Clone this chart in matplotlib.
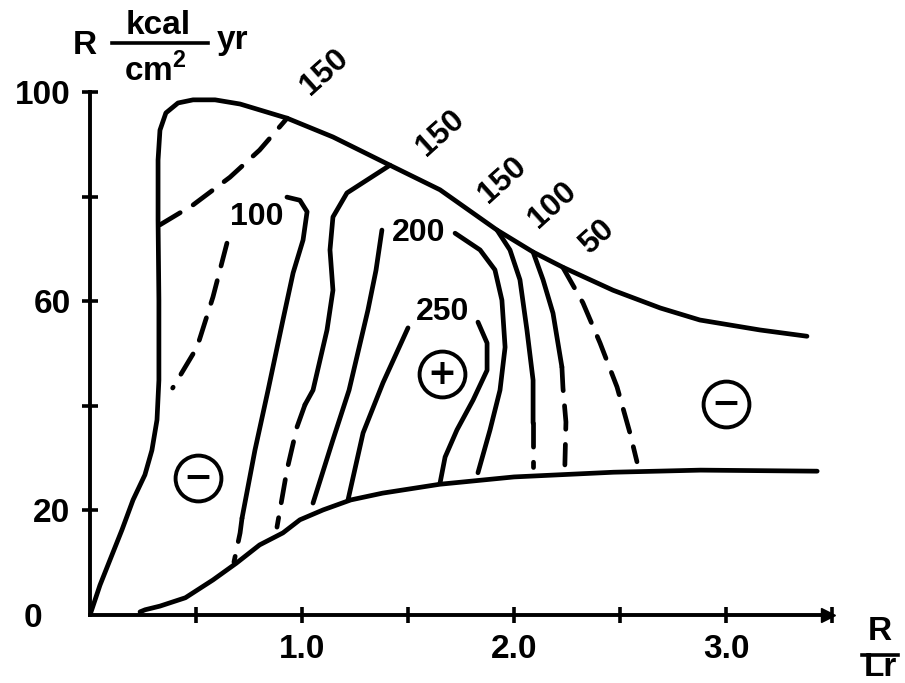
import matplotlib
matplotlib.use("Agg")
import matplotlib.pyplot as plt
from matplotlib.lines import Line2D

plt.rcParams['font.family'] = ['Liberation Sans', 'DejaVu Sans']
plt.rcParams['font.weight'] = 'bold'
plt.rcParams['mathtext.fontset'] = 'custom'
plt.rcParams['mathtext.bf'] = 'Liberation Sans:bold'

# outer boundary (left side, top, right side) and lower boundary
upper_x = [0.0, 0.047, 0.094, 0.151, 0.203, 0.259, 0.292, 0.316, 0.325, 0.325, 0.321, 0.321,
           0.33, 0.358, 0.415, 0.486, 0.59, 0.708, 0.929, 1.146, 1.415, 1.651, 1.92, 2.09,
           2.23, 2.467, 2.69, 2.877, 3.16, 3.382]
upper_y = [0.0, 5.7, 10.5, 16.3, 22.0, 26.8, 31.5, 37.3, 44.9, 60.2, 75.5, 87.0,
           92.7, 96.0, 97.9, 98.5, 98.5, 97.7, 95.0, 91.4, 86.0, 81.3, 73.6, 69.4,
           66.5, 62.1, 58.7, 56.4, 54.5, 53.3]
lower_x = [0.236, 0.26, 0.33, 0.45, 0.58, 0.69, 0.80, 0.91, 0.99, 1.10, 1.23, 1.38, 1.65,
           2.0, 2.47, 2.88, 3.43]
lower_y = [0.6, 1.0, 1.7, 3.3, 6.7, 9.9, 13.4, 15.7, 18.2, 20.1, 22.0, 23.3, 25.0,
           26.4, 27.3, 27.7, 27.5]

# isolines: (x, y, style)
iso_lines = [
    ([0.33, 0.486, 0.66, 0.80, 0.93], [74.6, 78.4, 83.7, 88.9, 95.0], 'dash'),           # 150 left
    ([0.646, 0.58, 0.505, 0.39], [71.1, 60.8, 51.2, 43.4], 'dash'),                    # 100 left part
    ([0.929, 0.99, 1.024, 1.005, 0.958, 0.91, 0.84, 0.778, 0.717],
     [79.9, 79.3, 77.1, 71.7, 65.4, 56.4, 43.0, 31.5, 18.5], 'solid'),                  # 100 right part
    ([0.717, 0.708, 0.679], [18.5, 15.7, 10.1], 'dash'),
    ([1.415, 1.212, 1.146, 1.132, 1.146, 1.118, 1.052, 1.014],
     [86.0, 80.7, 76.1, 69.8, 62.1, 54.5, 43.0, 40.2], 'solid'),                        # 150 middle
    ([1.014, 0.976, 0.929, 0.882], [40.2, 35.9, 27.7, 16.8], 'dash'),
    ([1.377, 1.349, 1.311, 1.222, 1.146, 1.052], [73.6, 65.9, 58.3, 43.0, 33.5, 21.4], 'solid'),  # 200 left
    ([1.722, 1.84, 1.91, 1.943, 1.958, 1.934, 1.887, 1.83],
     [73.0, 69.8, 66.0, 60.2, 51.2, 43.0, 35.4, 27.2], 'solid'),                        # 200 right
    ([1.5, 1.382, 1.288, 1.217], [54.9, 44.4, 34.8, 22.0], 'solid'),                   # 250 left
    ([1.83, 1.873, 1.873, 1.807, 1.731, 1.675, 1.651],
     [56.0, 52.0, 46.8, 41.1, 35.4, 30.2, 25.2], 'solid'),                              # 250 right
    ([1.92, 1.981, 2.028, 2.061, 2.09, 2.09], [73.6, 69.8, 64.1, 54.5, 44.9, 36.7], 'solid'),  # 150 right
    ([2.09, 2.09, 2.09], [36.7, 33.5, 28.3], 'dash'),
    ([2.09, 2.137, 2.184, 2.226], [69.4, 64.1, 57.7, 47.4], 'solid'),                  # 100 right
    ([2.226, 2.231, 2.245, 2.24], [47.4, 43.4, 36.9, 28.7], 'dash'),
    ([2.23, 2.325, 2.406, 2.486, 2.547, 2.58], [66.5, 59.7, 52.0, 43.6, 34.8, 29.3], 'dash'),  # 50
]

rot_labels = ['150', '150', '150', '100', '50']
rot_x = [1.108, 1.651, 1.948, 2.184, 2.392]
rot_y = [103.8, 92.2, 83.2, 78.4, 72.3]

flat_labels = ['100', '200', '250']
flat_x = [0.788, 1.552, 1.665]
flat_y = [76.1, 73.0, 57.9]

sign_text = ['\u2212', '+', '\u2212']
sign_x = [0.509, 1.66, 3.0]
sign_y = [26.2, 46.1, 40.3]

xticks = [0.5, 1.0, 1.5, 2.0, 2.5, 3.0, 3.5]
xticklabels = ['', '1.0', '', '2.0', '', '3.0', '']
yticks = [0, 20, 40, 60, 80, 100]
yticklabels = ['0   ', '20', '', '60', '', '100']
x_end = 3.48

fig = plt.figure(figsize=(9.05, 6.83), dpi=100)
ax = fig.add_axes([90 / 905, 68 / 683, 763.2 / 905, 549.15 / 683])
ax.set_xlim(0, 3.6)
ax.set_ylim(0, 105)

lw = 3.4
ax.plot(upper_x, upper_y, color='black', lw=lw, solid_capstyle='round', solid_joinstyle='round')
ax.plot(lower_x, lower_y, color='black', lw=lw, solid_capstyle='round', solid_joinstyle='round')
for xs, ys, st in iso_lines:
    if st == 'dash':
        ax.plot(xs, ys, color='black', lw=lw, dashes=(5.0, 3.2), dash_capstyle='round')
    else:
        ax.plot(xs, ys, color='black', lw=lw, solid_capstyle='round', solid_joinstyle='round')

for t, x, y in zip(rot_labels, rot_x, rot_y):
    ax.text(x, y, t, fontsize=23, rotation=42, ha='center', va='center',
            rotation_mode='anchor', clip_on=False)
for t, x, y in zip(flat_labels, flat_x, flat_y):
    ax.text(x, y, t, fontsize=23, ha='center', va='center')

for t, x, y in zip(sign_text, sign_x, sign_y):
    ax.plot(x, y, marker='o', ms=33, mfc='white', mec='black', mew=2.8)
    ax.text(x, y, t, fontsize=25, ha='center', va='center', family='DejaVu Sans',
            fontweight='bold')

# axes
for s in ['top', 'right']:
    ax.spines[s].set_visible(False)
ax.spines['left'].set_bounds(0, 100)
ax.spines['bottom'].set_bounds(0, x_end)
ax.spines['left'].set_linewidth(2.8)
ax.spines['bottom'].set_linewidth(2.8)
ax.plot(x_end, 0, marker='>', ms=10, color='black', clip_on=False)

ax.set_xticks(xticks)
ax.set_xticklabels(xticklabels)
ax.set_yticks(yticks)
ax.set_yticklabels(yticklabels)
ax.tick_params(axis='both', direction='inout', length=12, width=2.6, labelsize=24, pad=8)
ax.yaxis.get_major_ticks()[0].tick1line.set_visible(False)

# axis titles
fig.text(85 / 905, 1 - 45 / 683, 'R', fontsize=24, ha='center', va='center')
fig.text(158 / 905, 1 - 25 / 683, 'kcal', fontsize=24, ha='center', va='center')
fig.add_artist(Line2D([112 / 905, 208 / 905], [1 - 43 / 683, 1 - 43 / 683], color='black', lw=2.6))
fig.text(155 / 905, 1 - 70 / 683, 'cm$^\\mathbf{2}$', fontsize=24, ha='center', va='center')
fig.text(233 / 905, 1 - 40 / 683, 'yr', fontsize=24, ha='center', va='center')

fig.text(880 / 905, 1 - 632 / 683, 'R', fontsize=24, ha='center', va='center')
fig.add_artist(Line2D([862 / 905, 898 / 905], [1 - 655 / 683, 1 - 655 / 683], color='black', lw=2.6))
fig.text(880 / 905, 1 - 668 / 683, 'Lr', fontsize=24, ha='center', va='center')

fig.savefig('out.png', dpi=100)
